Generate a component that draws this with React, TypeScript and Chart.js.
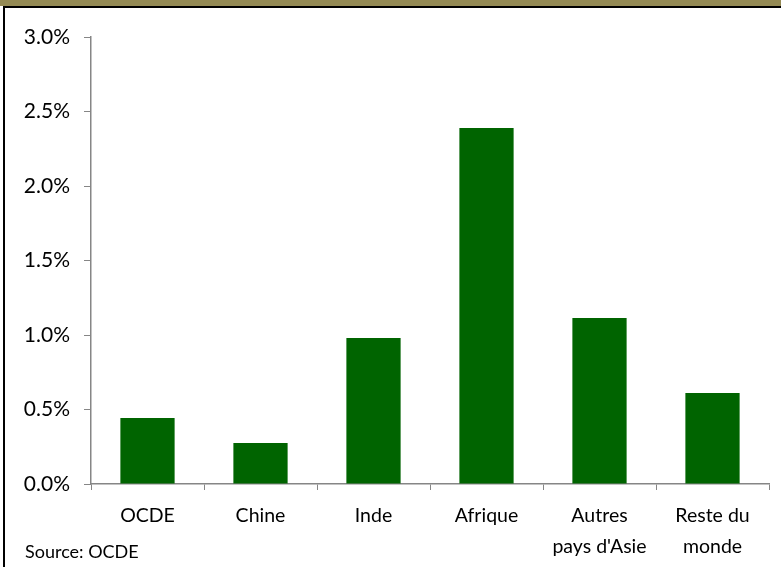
import React, { useEffect, useRef } from "react";
import { Chart, registerables } from "chart.js";

Chart.register(...registerables);

const categories: (string | string[])[] = [
  "OCDE",
  "Chine",
  "Inde",
  "Afrique",
  ["Autres", "pays d'Asie"],
  ["Reste du", "monde"],
];
const values = [0.443, 0.275, 0.98, 2.39, 1.114, 0.61];
const yTicks = [0, 0.5, 1, 1.5, 2, 2.5, 3];
const sourceText = "Source: OCDE";

const FONT = "Lato, 'Open Sans', sans-serif";

export default function App() {
  const ref = useRef<HTMLCanvasElement>(null);
  useEffect(() => {
    if (!ref.current) return;
    const chart = new Chart(ref.current, {
      type: "bar",
      data: {
        labels: categories,
        datasets: [
          {
            data: values,
            backgroundColor: "#006400",
            borderWidth: 0,
            categoryPercentage: 1,
            barPercentage: 0.48,
          },
        ],
      },
      options: {
        animation: false,
        responsive: false,
        maintainAspectRatio: false,
        layout: { padding: { top: 37, right: 12, bottom: 8, left: 0 } },
        plugins: { legend: { display: false }, tooltip: { enabled: false } },
        scales: {
          x: {
            grid: {
              drawOnChartArea: false,
              drawTicks: true,
              tickLength: 6,
              color: "#868686",
              offset: true,
            },
            border: { color: "#868686", width: 1.5 },
            ticks: {
              color: "#000",
              font: { family: FONT, size: 19.5, lineHeight: 1.6 },
              padding: 10,
              maxRotation: 0,
              autoSkip: false,
            },
            afterFit: (s: any) => {
              s.height = 75;
            },
          },
          y: {
            min: 0,
            max: 3,
            afterBuildTicks: (s: any) => {
              s.ticks = yTicks.map((v) => ({ value: v }));
            },
            grid: {
              drawOnChartArea: false,
              drawTicks: true,
              tickLength: 7,
              color: "#868686",
            },
            border: { color: "#868686", width: 1.5 },
            ticks: {
              color: "#000",
              font: { family: FONT, size: 21 },
              padding: 14,
              callback: (v: any) => Number(v).toFixed(1) + "%",
            },
            afterFit: (s: any) => {
              s.width = 91;
            },
          },
        },
      },
    });
    return () => chart.destroy();
  }, []);

  return (
    <div
      style={{
        position: "fixed",
        left: 0,
        top: 0,
        width: 781,
        height: 567,
        background: "#fff",
        overflow: "hidden",
      }}
    >
      <div style={{ position: "absolute", left: 0, top: 0, width: 781, height: 6, background: "#948a54" }} />
      <div style={{ position: "absolute", left: 3, top: 6, width: 778, height: 2, background: "#000" }} />
      <div style={{ position: "absolute", left: 3, top: 6, width: 2, height: 561, background: "#000" }} />
      <canvas ref={ref} width={781} height={567} style={{ position: "absolute", left: 0, top: 0 }} />
      <div
        style={{
          position: "absolute",
          left: 25,
          top: 540,
          fontFamily: FONT,
          fontSize: 18,
          color: "#000",
          whiteSpace: "nowrap",
        }}
      >
        {sourceText}
      </div>
    </div>
  );
}
